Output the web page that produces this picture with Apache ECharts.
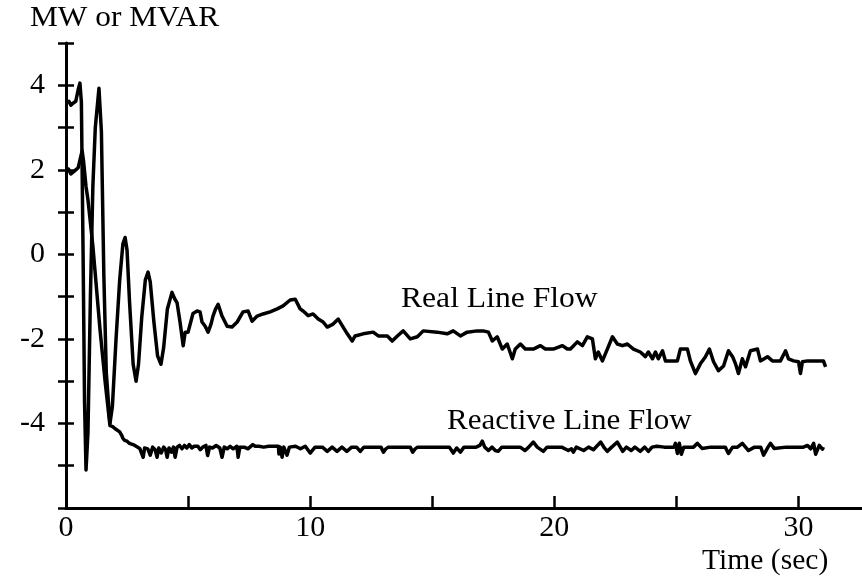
<!DOCTYPE html>
<html>
<head>
<meta charset="utf-8">
<script src="https://cdn.jsdelivr.net/npm/echarts@6/dist/echarts.min.js"></script>
<style>
  html, body { margin: 0; padding: 0; background: #fff; }
  #chart { width: 862px; height: 586px; }
</style>
</head>
<body>
<div id="chart"></div>
<script>
// Time axis (sec) and value axis (MW or MVAR) settings
const xTicks = { min: 0, max: 32.6, step: 5, labelStep: 10 };
const yTicks = { min: -6, max: 5, step: 1, labelStep: 2 };

// Real line flow, [time (s), MW]
const realFlow = [
  [0,3.6],[0.12,3.62],[0.2,3.53],[0.3,3.58],[0.4,3.62],[0.5,3.9],[0.57,4.05],[0.63,3.6],[0.7,0.0],[0.76,-3.5],
  [0.82,-5.1],[0.9,-4.2],[1.0,-1.0],[1.1,1.6],[1.2,3.0],[1.35,3.93],[1.45,2.9],[1.55,-0.5],[1.65,-2.8],[1.8,-4.0],
  [1.9,-3.6],[2.05,-2.0],[2.2,-0.6],[2.33,0.25],[2.42,0.4],[2.5,0.1],[2.6,-1.1],[2.75,-2.6],[2.87,-3.0],[2.97,-2.6],
  [3.1,-1.5],[3.25,-0.6],[3.36,-0.42],[3.45,-0.65],[3.6,-1.6],[3.75,-2.4],[3.89,-2.6],[4.0,-2.2],[4.15,-1.3],[4.34,-0.9],
  [4.45,-1.05],[4.55,-1.15],[4.67,-1.6],[4.8,-2.16],[4.88,-1.84],[5.0,-1.84],[5.2,-1.4],[5.37,-1.34],[5.49,-1.36],[5.57,-1.6],
  [5.7,-1.7],[5.82,-1.84],[5.94,-1.65],[6.02,-1.46],[6.12,-1.3],[6.23,-1.18],[6.39,-1.46],[6.6,-1.7],[6.8,-1.72],[7.01,-1.6],
  [7.25,-1.36],[7.46,-1.34],[7.62,-1.58],[7.83,-1.46],[8.07,-1.41],[8.36,-1.36],[8.65,-1.29],[8.89,-1.22],[9.18,-1.08],[9.39,-1.06],
  [9.59,-1.29],[9.71,-1.34],[9.92,-1.45],[10.12,-1.41],[10.33,-1.53],[10.53,-1.6],[10.7,-1.72],[10.94,-1.65],[11.15,-1.53],[11.35,-1.72],
  [11.52,-1.88],[11.72,-2.05],[11.84,-1.93],[12.17,-1.88],[12.58,-1.84],[12.79,-1.93],[13.16,-1.93],[13.36,-2.05],[13.57,-1.93],[13.81,-1.81],
  [14.1,-2.0],[14.39,-1.95],[14.63,-1.81],[15.2,-1.84],[15.61,-1.88],[15.86,-1.81],[16.15,-1.93],[16.43,-1.84],[16.84,-1.81],[17.09,-1.81],
  [17.3,-1.84],[17.46,-2.05],[17.66,-1.95],[17.87,-2.24],[18.07,-2.12],[18.28,-2.47],[18.4,-2.24],[18.61,-2.12],[18.81,-2.24],[19.14,-2.24],
  [19.43,-2.16],[19.63,-2.24],[19.96,-2.24],[20.33,-2.16],[20.53,-2.24],[20.66,-2.24],[20.94,-2.07],[21.15,-2.16],[21.35,-1.95],[21.56,-2.0],
  [21.68,-2.47],[21.8,-2.31],[21.97,-2.52],[22.17,-2.24],[22.38,-1.95],[22.58,-2.12],[22.79,-2.16],[22.99,-2.12],[23.24,-2.24],[23.52,-2.31],
  [23.73,-2.42],[23.85,-2.31],[24.02,-2.47],[24.14,-2.31],[24.26,-2.47],[24.43,-2.28],[24.55,-2.52],[24.75,-2.52],[25.04,-2.52],[25.16,-2.24],
  [25.45,-2.24],[25.57,-2.52],[25.78,-2.82],[25.98,-2.59],[26.19,-2.42],[26.35,-2.24],[26.52,-2.54],[26.72,-2.75],[26.93,-2.64],[27.13,-2.28],
  [27.3,-2.42],[27.42,-2.59],[27.54,-2.82],[27.7,-2.47],[27.83,-2.66],[28.03,-2.28],[28.32,-2.24],[28.44,-2.52],[28.73,-2.42],[28.93,-2.52],
  [29.26,-2.52],[29.47,-2.28],[29.59,-2.47],[29.8,-2.52],[30.0,-2.54],[30.08,-2.82],[30.16,-2.54],[30.37,-2.52],[31.02,-2.52],[31.11,-2.66]
];

// Reactive line flow, [time (s), MVAR]
const reactiveFlow = [
  [0,2.0],[0.1,2.02],[0.2,1.9],[0.3,1.95],[0.4,2.0],[0.5,2.05],[0.6,2.3],[0.66,2.45],[0.72,2.2],[0.82,1.6],
  [0.9,1.29],[1.1,0.2],[1.39,-1.76],[1.6,-3.0],[1.8,-4.05],[1.9,-4.07],[2.0,-4.12],[2.2,-4.2],[2.28,-4.28],[2.33,-4.35],
  [2.4,-4.4],[2.5,-4.42],[2.6,-4.47],[2.75,-4.5],[2.87,-4.54],[2.95,-4.56],[3.02,-4.59],[3.1,-4.56],[3.16,-4.8],[3.22,-4.58],
  [3.35,-4.6],[3.45,-4.75],[3.55,-4.56],[3.65,-4.62],[3.73,-4.8],[3.8,-4.58],[3.9,-4.7],[4.0,-4.56],[4.08,-4.62],[4.14,-4.8],
  [4.22,-4.58],[4.32,-4.68],[4.4,-4.56],[4.47,-4.8],[4.55,-4.56],[4.65,-4.52],[4.75,-4.6],[4.85,-4.52],[4.95,-4.58],[5.05,-4.5],
  [5.15,-4.58],[5.25,-4.54],[5.4,-4.54],[5.5,-4.62],[5.6,-4.56],[5.73,-4.52],[5.8,-4.76],[5.88,-4.56],[6.0,-4.58],[6.15,-4.52],
  [6.3,-4.58],[6.39,-4.8],[6.48,-4.56],[6.6,-4.6],[6.72,-4.54],[6.85,-4.6],[7.0,-4.54],[7.05,-4.8],[7.12,-4.56],[7.3,-4.56],
  [7.45,-4.6],[7.65,-4.5],[7.75,-4.54],[7.9,-4.54],[8.1,-4.56],[8.3,-4.54],[8.7,-4.54],[8.72,-4.72],[8.78,-4.56],[8.85,-4.8],
  [8.92,-4.56],[9.05,-4.75],[9.15,-4.56],[9.4,-4.54],[9.6,-4.6],[9.8,-4.54],[10.0,-4.7],[10.2,-4.56],[10.5,-4.56],[10.7,-4.66],
  [10.9,-4.56],[11.1,-4.66],[11.3,-4.56],[11.5,-4.66],[11.7,-4.56],[11.9,-4.56],[12.05,-4.66],[12.2,-4.56],[12.5,-4.56],[12.9,-4.56],
  [13.0,-4.68],[13.1,-4.6],[13.2,-4.56],[13.5,-4.56],[14.1,-4.56],[14.2,-4.68],[14.3,-4.6],[14.4,-4.56],[15.0,-4.56],[15.7,-4.56],
  [15.86,-4.7],[16.0,-4.58],[16.15,-4.68],[16.3,-4.56],[16.8,-4.56],[16.95,-4.52],[17.05,-4.42],[17.15,-4.56],[17.3,-4.64],[17.45,-4.56],
  [17.58,-4.64],[17.7,-4.66],[17.85,-4.56],[18.6,-4.56],[18.8,-4.64],[18.95,-4.56],[19.14,-4.44],[19.3,-4.56],[19.55,-4.66],[19.7,-4.56],
  [20.3,-4.56],[20.57,-4.64],[20.7,-4.6],[20.78,-4.68],[20.9,-4.56],[21.2,-4.64],[21.4,-4.56],[21.6,-4.62],[21.9,-4.44],[22.05,-4.58],
  [22.17,-4.66],[22.35,-4.56],[22.58,-4.44],[22.7,-4.56],[22.8,-4.66],[22.95,-4.56],[23.15,-4.64],[23.3,-4.56],[23.52,-4.66],[23.7,-4.56],
  [23.85,-4.66],[24.0,-4.56],[24.2,-4.54],[24.5,-4.56],[24.9,-4.56],[24.96,-4.47],[25.04,-4.71],[25.12,-4.47],[25.2,-4.73],[25.3,-4.56],
  [25.7,-4.56],[25.86,-4.47],[26.05,-4.59],[26.4,-4.56],[27.0,-4.56],[27.13,-4.71],[27.3,-4.56],[27.5,-4.56],[27.7,-4.47],[27.95,-4.64],
  [28.2,-4.56],[28.45,-4.56],[28.57,-4.75],[28.75,-4.56],[28.85,-4.47],[29.0,-4.59],[29.5,-4.56],[30.2,-4.56],[30.37,-4.52],[30.5,-4.6],
  [30.62,-4.47],[30.7,-4.73],[30.85,-4.52],[30.98,-4.61],[31.02,-4.56]
];

const seriesNames = ['Real Line Flow', 'Reactive Line Flow'];
const axisTitles = { y: 'MW or MVAR', x: 'Time (sec)' };

const FONT = '"Liberation Serif", "Times New Roman", serif';
const INK = '#000';

const chart = echarts.init(document.getElementById('chart'), null, { renderer: 'canvas' });

const yBase = {
  type: 'value', min: yTicks.min, max: yTicks.max, interval: yTicks.step,
  position: 'left', splitLine: { show: false }
};

// annotation text, slightly widened to the typeface's proportions
function caption(text, left, top, widen) {
  return {
    type: 'text', left: left, top: top, scaleX: widen, scaleY: 1,
    style: { text: text, font: '29px ' + FONT, fill: INK }
  };
}

chart.setOption({
  animation: false,
  backgroundColor: '#fff',
  grid: { left: 66, right: 0, top: 43, bottom: 78, containLabel: false },
  xAxis: {
    type: 'value', min: xTicks.min, max: xTicks.max, interval: xTicks.step,
    axisLine: { onZero: false, lineStyle: { color: INK, width: 3 } },
    axisTick: { inside: true, length: 12, lineStyle: { color: INK, width: 2.5 } },
    splitLine: { show: false },
    axisLabel: {
      color: INK, fontFamily: FONT, fontSize: 30, margin: 5,
      showMaxLabel: false,
      formatter: v => (v % xTicks.labelStep === 0 ? String(v) : '')
    }
  },
  yAxis: [
    Object.assign({}, yBase, {
      axisLine: { show: true, onZero: false, lineStyle: { color: INK, width: 3 } },
      axisTick: { length: 8, lineStyle: { color: INK, width: 2.5 } },
      axisLabel: {
        color: INK, fontFamily: FONT, fontSize: 30, margin: 21,
        formatter: v => (v % yTicks.labelStep === 0 && v !== yTicks.min ? String(v) : '')
      }
    }),
    // mirrored inner ticks so the value-axis ticks cross the axis line
    Object.assign({}, yBase, {
      axisLine: { show: false, onZero: false },
      axisTick: { show: true, inside: true, length: 8, lineStyle: { color: INK, width: 2.5 } },
      axisLabel: { show: false }
    })
  ],
  series: [
    {
      name: seriesNames[0], type: 'line', data: realFlow, yAxisIndex: 0,
      showSymbol: false, smooth: false,
      lineStyle: { color: INK, width: 3.5, join: 'round' }
    },
    {
      name: seriesNames[1], type: 'line', data: reactiveFlow, yAxisIndex: 0,
      showSymbol: false, smooth: false,
      lineStyle: { color: INK, width: 3.5, join: 'round' }
    }
  ],
  graphic: [
    caption(axisTitles.y, 30, 4, 1.08),
    caption(axisTitles.x, 702, 547, 1.02),
    caption(seriesNames[0], 401, 285, 1.09),
    caption(seriesNames[1], 447, 407, 1.07)
  ]
});
</script>
</body>
</html>
